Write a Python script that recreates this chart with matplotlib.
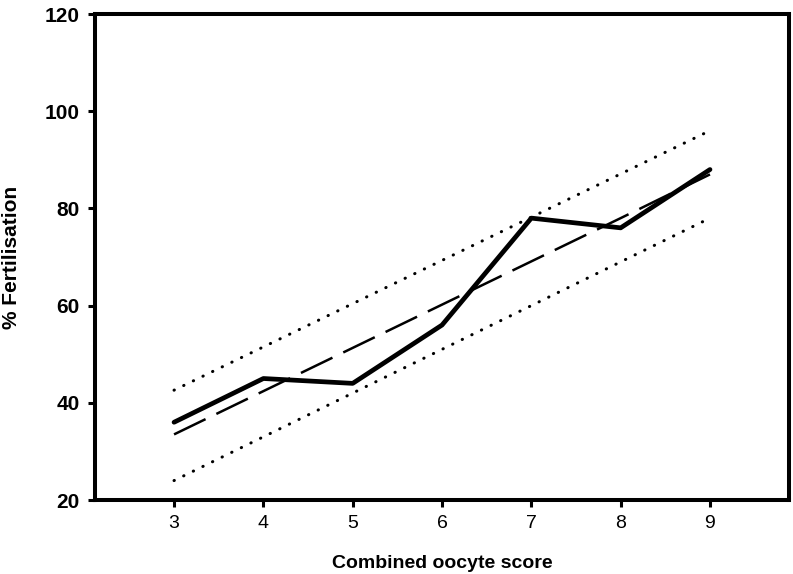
import matplotlib
matplotlib.use('Agg')
import matplotlib.pyplot as plt

# 数据：联合卵母细胞评分与受精率
scores = [3, 4, 5, 6, 7, 8, 9]
fert_pct = [36, 45, 44, 56, 78, 76, 88]
fit_line = [33.5, 42.4, 51.3, 60.2, 69.1, 78.0, 87.0]
upper_ci = [42.6, 51.5, 60.4, 69.3, 78.2, 87.1, 96.0]
lower_ci = [24.0, 33.0, 42.0, 51.0, 60.0, 69.0, 78.0]

x_ticks = [3, 4, 5, 6, 7, 8, 9]
y_ticks = [20, 40, 60, 80, 100, 120]

plt.rcParams['font.family'] = ['Liberation Sans', 'DejaVu Sans']

fig = plt.figure(figsize=(7.93, 5.74), dpi=100)
ax = fig.add_axes([0.1198, 0.1289, 0.8752, 0.8467])

# 置信区间（点线）
for band in (upper_ci, lower_ci):
    ax.plot(scores, band, color='black', lw=2.2,
            linestyle=(0, (0.1, 3.4)), dash_capstyle='round')

# 回归线（虚线）
ax.plot(scores, fit_line, color='black', lw=1.8, linestyle=(0, (14, 4.8)))

# 实测值（实线）
ax.plot(scores, fert_pct, color='black', lw=3.4,
        solid_capstyle='round', solid_joinstyle='round')

ax.set_xlim(2.115, 9.885)
ax.set_ylim(20, 120)
ax.set_xticks(x_ticks)
ax.set_yticks(y_ticks)

for side in ax.spines.values():
    side.set_linewidth(2.9)

ax.tick_params(axis='both', direction='out', length=5, width=2.2, pad=6)
ax.tick_params(axis='x', labelsize=14)
ax.tick_params(axis='y', labelsize=15)
for lab in ax.get_yticklabels():
    lab.set_fontweight('bold')

ax.set_xlabel('Combined oocyte score', fontsize=14, fontweight='bold', labelpad=16)
ax.set_ylabel('% Fertilisation', fontsize=15, fontweight='bold', labelpad=17)

plt.savefig('out.png', dpi=100)
